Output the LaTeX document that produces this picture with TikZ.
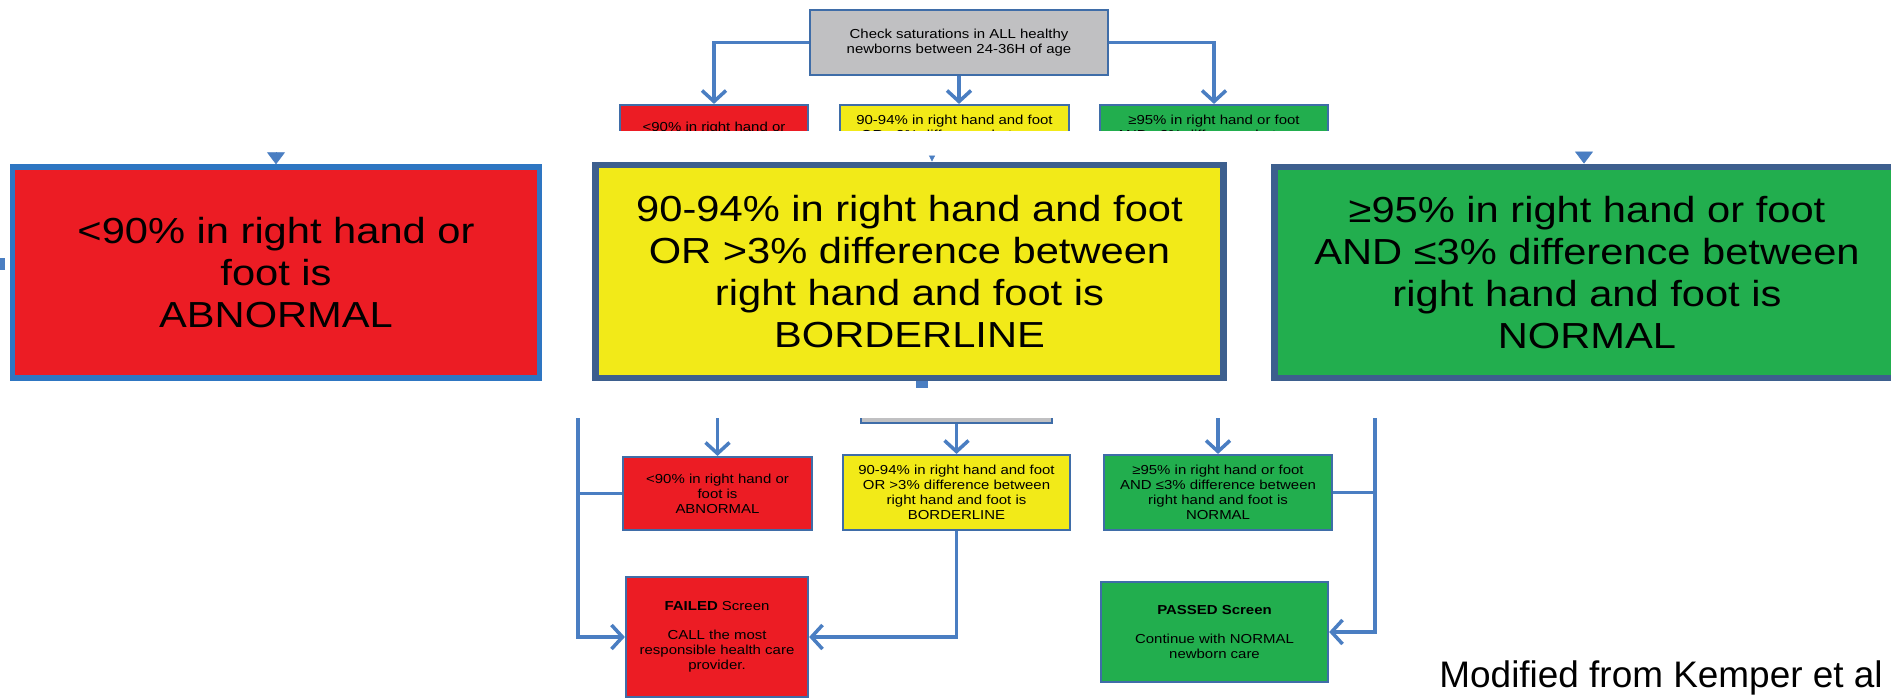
\documentclass[tikz,border=0pt]{standalone}
\usepackage{xcolor}
\usepackage{fontspec}
\setmainfont{Liberation Sans}
\newfontfamily\chartfont{Liberation Sans}[FakeStretch=1.15]
\usepackage{tikz}
\usetikzlibrary{arrows.meta}

\definecolor{chartred}{HTML}{EC1C24}
\definecolor{chartyellow}{HTML}{F2EA18}
\definecolor{chartgreen}{HTML}{22AE4E}
\definecolor{chartgray}{HTML}{C0C0C2}
\definecolor{linkblue}{HTML}{4A7EC2}
\definecolor{smallrim}{HTML}{3F6DA8}
\definecolor{redrim}{HTML}{2E76C2}
\definecolor{slaterim}{HTML}{3D5F8E}

\tikzset{
  smallbox/.style={draw=smallrim, line width=0.6pt, align=center, inner sep=0pt,
    font=\chartfont\fontsize{3.7}{4.25}\selectfont},
  bigbox/.style={line width=1.9pt, align=center, inner sep=0pt,
    font=\chartfont\fontsize{10.3}{11.9}\selectfont},
  link/.style={draw=linkblue, line width=1pt},
  linkarrow/.style={link, -{Straight Barb[length=1.1mm, width=2.4mm]}},
  bigtip/.style={draw=linkblue, fill=linkblue, line width=0.2pt, -{Triangle[length=1.2mm, width=1.8mm]}},
  stub/.style={draw=linkblue, line width=1.2mm}
}

\begin{document}
\begin{tikzpicture}[x=0.01cm,y=-0.01cm]
\useasboundingbox (0,0) rectangle (1891,697);

% top of the small chart
\node[smallbox, fill=chartgray, minimum width=2.98cm, minimum height=0.65cm] (check) at (959,42.5) {Check saturations in ALL healthy\\newborns between 24-36H of age};

\begin{scope}
\clip (0,0) rectangle (1891,130);
\node[smallbox, fill=chartred, minimum width=1.88cm, minimum height=0.73cm] (topred) at (714,141.5) {<90\% in right hand or\\foot is\\ABNORMAL};
\node[smallbox, fill=chartyellow, minimum width=2.29cm, minimum height=0.75cm] (topyel) at (954.5,142.5) {90-94\% in right hand and foot\\OR >3\% difference between\\right hand and foot is\\BORDERLINE};
\node[smallbox, fill=chartgreen, minimum width=2.28cm, minimum height=0.75cm] (topgrn) at (1214,142.5) {≥95\% in right hand or foot\\AND ≤3\% difference between\\right hand and foot is\\NORMAL};
\end{scope}

\draw[linkarrow] (check.west) -| (topred.north);
\draw[linkarrow] (check.south) -- (check.south |- topyel.north);
\draw[linkarrow] (check.east) -| (topgrn.north);

% enlarged boxes
\node[bigbox, draw=redrim, line width=1.5pt, fill=chartred, minimum width=5.26cm, minimum height=2.11cm] (bigred) at (276,272.5) {<90\% in right hand or\\foot is\\ABNORMAL};
\node[bigbox, draw=slaterim, fill=chartyellow, minimum width=6.27cm, minimum height=2.13cm] (bigyel) at (909.5,271.5) {90-94\% in right hand and foot\\OR >3\% difference between\\right hand and foot is\\BORDERLINE};
\node[bigbox, draw=slaterim, fill=chartgreen, minimum width=6.24cm, minimum height=2.11cm] (biggrn) at (1587,272.5) {≥95\% in right hand or foot\\AND ≤3\% difference between\\right hand and foot is\\NORMAL};

\coordinate (tipred) at (276,155);
\coordinate (tipyel) at (932,158);
\coordinate (tipgrn) at (1584,155);
\coordinate (stubleft) at (0,264);
\coordinate (stubyel) at (922,388);

\draw[bigtip] (tipred) -- (tipred |- bigred.north);
\draw[bigtip] (tipgrn) -- (tipgrn |- biggrn.north);
\draw[draw=linkblue, line width=0.2pt, -{Triangle[length=0.6mm, width=0.6mm]}] (tipyel) -- (tipyel |- bigyel.north);
\draw[stub, shorten <=0.05cm] (bigred.west |- stubleft) -- (stubleft);
\draw[stub] (stubyel |- bigyel.south) -- (stubyel);

% bottom of the small chart
\begin{scope}
\clip (0,418) rectangle (1891,697);
\node[smallbox, fill=chartgray, minimum width=1.91cm, minimum height=0.5cm] (recheck) at (956.5,398) {};

\node[smallbox, fill=chartred, minimum width=1.89cm, minimum height=0.73cm] (sred) at (717.5,493.5) {<90\% in right hand or\\foot is\\ABNORMAL};
\node[smallbox, fill=chartyellow, minimum width=2.27cm, minimum height=0.75cm] (syel) at (956.5,492.5) {90-94\% in right hand and foot\\OR >3\% difference between\\right hand and foot is\\BORDERLINE};
\node[smallbox, fill=chartgreen, minimum width=2.28cm, minimum height=0.75cm] (sgrn) at (1218,492.5) {≥95\% in right hand or foot\\AND ≤3\% difference between\\right hand and foot is\\NORMAL};

\node[smallbox, fill=chartred, minimum width=1.82cm, minimum height=1.2cm] (failed) at (717,637) {\textbf{FAILED} Screen\\[4pt]CALL the most\\responsible health care\\provider.};
\node[smallbox, fill=chartgreen, minimum width=2.27cm, minimum height=1.0cm] (passed) at (1214.5,632) {\textbf{PASSED Screen}\\[4pt]Continue with NORMAL\\newborn care};

\coordinate (lefttop) at (578,410);
\coordinate (righttop) at (1375,410);

\draw[linkarrow] (sred.north |- lefttop) -- (sred.north);
\draw[linkarrow] (recheck.south) -- (syel.north);
\draw[linkarrow] (sgrn.north |- righttop) -- (sgrn.north);

\draw[linkarrow] (lefttop) |- (failed.west);
\draw[link] (sred.west) -- (sred.west -| lefttop);
\draw[linkarrow] (syel.south) |- (failed.east);
\draw[linkarrow] (righttop) |- (passed.east);
\draw[link] (sgrn.east) -- (sgrn.east -| righttop);
\end{scope}

\node[anchor=base west, font=\fontsize{10.5}{12}\selectfont] (source) at (1427,687) {Modified from Kemper et al};

\end{tikzpicture}
\end{document}
